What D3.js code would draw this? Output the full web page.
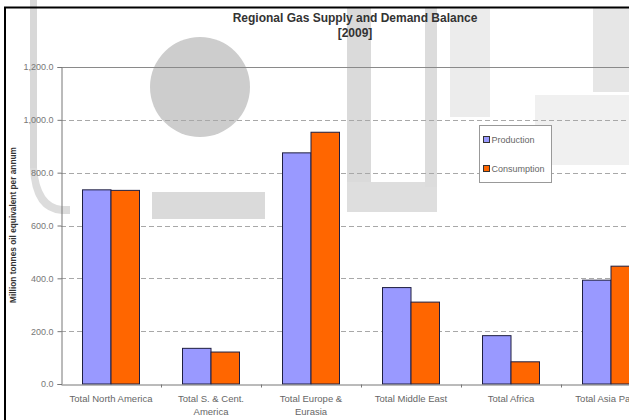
<!DOCTYPE html>
<html><head><meta charset="utf-8">
<script src="https://cdn.jsdelivr.net/npm/d3@7/dist/d3.min.js"></script>
<style>body{margin:0;background:#fff;} svg{display:block;}</style>
</head><body>
<svg id="c" width="629" height="420"></svg>
<script>
const categories = ["Total North America","Total S. & Cent. America","Total Europe & Eurasia","Total Middle East","Total Africa","Total Asia Pacific"];
const categoryLines = [["Total North America"],["Total S. & Cent.","America"],["Total Europe &","Eurasia"],["Total Middle East"],["Total Africa"],["Total Asia Pacific"]];
const seriesNames = ["Production","Consumption"];
const production = [735, 135, 875, 365, 183, 393];
const consumption = [733, 121, 953, 310, 84, 446];
const yTicks = [0, 200, 400, 600, 800, 1000, 1200];
const colors = ["#9999ff","#ff6600"];

const svg = d3.select("#c");
const font = "Liberation Sans, Arial, sans-serif";

// faint watermark background shapes
const wm = svg.append("g");
wm.append("rect").attr("x",30).attr("y",0).attr("width",7).attr("height",168).attr("fill","#d8d8d8");
wm.append("path").attr("d","M30,168 Q32,212 62,214 L70,214 L70,206 L62,206 Q40,204 37,168 Z").attr("fill","#dcdcdc");
wm.append("circle").attr("cx",200).attr("cy",87).attr("r",50).attr("fill","#cdcdcd");
wm.append("rect").attr("x",152).attr("y",192).attr("width",113).attr("height",27).attr("fill","#dadada");
wm.append("rect").attr("x",347).attr("y",7).attr("width",24).attr("height",175).attr("fill","#dadada");
wm.append("rect").attr("x",347).attr("y",182).attr("width",90).attr("height",30).attr("fill","#dedede");
wm.append("rect").attr("x",425).attr("y",7).attr("width",12).attr("height",180).attr("fill","#dcdcdc");
wm.append("rect").attr("x",450).attr("y",7).attr("width",40).attr("height",110).attr("fill","#ececec");
wm.append("rect").attr("x",593).attr("y",7).attr("width",36).attr("height",85).attr("fill","#e6e6e6");
wm.append("rect").attr("x",535).attr("y",95).attr("width",94).attr("height",70).attr("fill","#f0f0f0");

// frame
svg.append("path").attr("d","M5,430 L5,7.5 L640,7.5").attr("fill","none").attr("stroke","#000").attr("stroke-width",2);

const x0 = d3.scaleBand().domain(categories).range([61, 661]).paddingInner(0).paddingOuter(0);
const x1 = d3.scaleBand().domain(seriesNames).range([x0.bandwidth()*0.215, x0.bandwidth()*0.785]);
const y = d3.scaleLinear().domain([0,1200]).range([384, 67]);

// gridlines
svg.append("g").selectAll("line").data(yTicks.filter(t=>t>0 && t<1200)).join("line")
  .attr("x1",61).attr("x2",629).attr("y1",d=>Math.round(y(d))+0.5).attr("y2",d=>Math.round(y(d))+0.5)
  .attr("stroke","#a8a8a8").attr("stroke-dasharray","5,3");
svg.append("line").attr("x1",61).attr("x2",629).attr("y1",Math.round(y(1200))+0.5).attr("y2",Math.round(y(1200))+0.5).attr("stroke","#8a8a8a");

// bars
const data = categories.map((c,i)=>({cat:c, vals:[production[i], consumption[i]]}));
const g = svg.append("g").selectAll("g").data(data).join("g").attr("transform",d=>`translate(${x0(d.cat)},0)`);
g.selectAll("rect").data(d=>d.vals.map((v,j)=>({v, s:seriesNames[j], j}))).join("rect")
  .attr("x",d=>x1(d.s)).attr("width",x1.bandwidth())
  .attr("y",d=>y(d.v)).attr("height",d=>y(0)-y(d.v))
  .attr("fill",d=>colors[d.j]).attr("stroke","#1e1e40").attr("stroke-width",1);

// y axis
const yAxis = d3.axisLeft(y).tickValues(yTicks).tickFormat(d3.format(",.1f")).tickSize(4).tickPadding(4);
const ya = svg.append("g").attr("transform","translate(61.5,0)").call(yAxis);
ya.select(".domain").attr("stroke","#777");
ya.selectAll(".tick line").attr("stroke","#777");
ya.selectAll("text").attr("font-family",font).attr("font-size",9).attr("fill","#777");

// x axis
const xAxis = d3.axisBottom(x0).tickSize(0).tickFormat("");
const xa = svg.append("g").attr("transform","translate(0,384.5)").call(xAxis);
xa.select(".domain").attr("stroke","#777");
svg.append("g").selectAll("line").data(categories).join("line")
  .attr("x1",d=>Math.round(x0(d)+x0.bandwidth())+0.5).attr("x2",d=>Math.round(x0(d)+x0.bandwidth())+0.5)
  .attr("y1",384.5).attr("y2",387.5).attr("stroke","#777");
const lab = svg.append("g").selectAll("text").data(categories).join("text")
  .attr("x",d=>x0(d)+x0.bandwidth()/2).attr("y",402)
  .attr("text-anchor","middle").attr("font-family",font).attr("font-size",9.5).attr("fill","#666");
lab.each(function(d,i){
  const t=d3.select(this);
  categoryLines[i].forEach((ln,k)=>t.append("tspan").attr("x",x0(d)+x0.bandwidth()/2).attr("dy",k?13:0).text(ln));
});

// titles
svg.append("text").attr("x",355).attr("y",22).attr("text-anchor","middle").attr("font-family",font)
  .attr("font-size",12).attr("font-weight","bold").attr("fill","#333").text("Regional Gas Supply and Demand Balance");
svg.append("text").attr("x",355).attr("y",37).attr("text-anchor","middle").attr("font-family",font)
  .attr("font-size",12).attr("font-weight","bold").attr("fill","#333").text("[2009]");
svg.append("text").attr("transform","translate(15.5,225) rotate(-90)").attr("text-anchor","middle").attr("font-family",font)
  .attr("font-size",8.3).attr("font-weight","bold").attr("fill","#333").text("Million tonnes oil equivalent per annum");

// legend
const lg = svg.append("g");
lg.append("rect").attr("x",479.5).attr("y",125.5).attr("width",72).attr("height",57).attr("fill","#fff").attr("stroke","#999");
seriesNames.forEach((s,i)=>{
  const yy = 140 + i*29;
  lg.append("rect").attr("x",483.5).attr("y",yy-3.5).attr("width",6).attr("height",6).attr("fill",colors[i]).attr("stroke","#333");
  lg.append("text").attr("x",491.5).attr("y",yy+3.2).attr("font-family",font).attr("font-size",9).attr("fill","#666").text(s);
});
</script>
</body></html>
